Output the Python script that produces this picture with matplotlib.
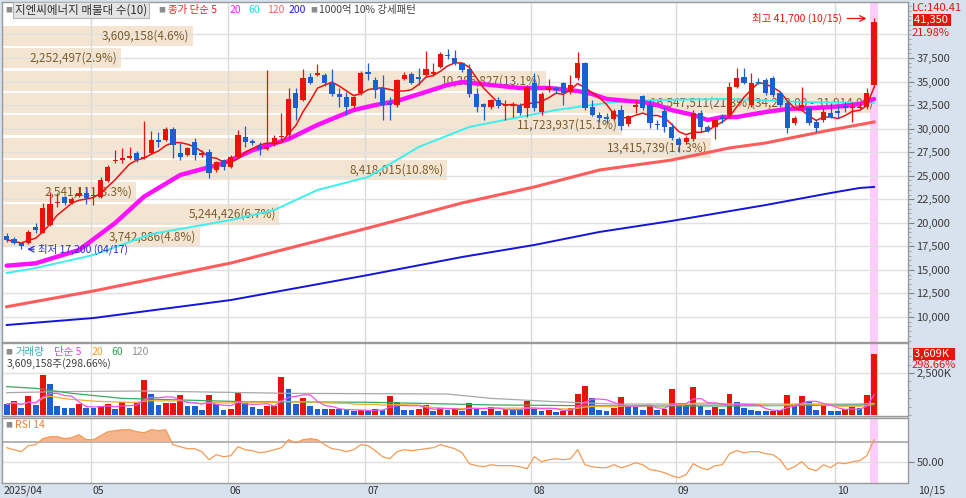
import numpy as np
import pandas as pd
import matplotlib
matplotlib.use("Agg")
import matplotlib.pyplot as plt
from matplotlib.ticker import FixedLocator, MultipleLocator, FuncFormatter

plt.rcParams['font.family'] = ['Noto Sans CJK KR', 'DejaVu Sans']

W, H = 966, 498

# ---- trading days (KRX holidays removed)
holidays = ['2025-05-01', '2025-05-05', '2025-05-06', '2025-06-03', '2025-06-06',
            '2025-08-15', '2025-10-03', '2025-10-06', '2025-10-07', '2025-10-08', '2025-10-09']
days = pd.bdate_range('2025-04-15', '2025-10-15')
days = days[~days.isin(pd.to_datetime(holidays))]

# ---- daily candles
opens = [18600, 18280, 17850, 17850, 19550, 18950, 19800, 22100, 22750, 22100,
         22850, 23150, 22900, 22750, 24450, 26550, 26650, 26900, 27400, 26900,
         27400, 28800, 28800, 29950, 27400, 27200, 28600, 27200, 27550, 25600,
         26650, 25950, 27000, 29100, 28700, 28150, 27850, 28350, 29100, 29350,
         33800, 33050, 35500, 35700, 35700, 34850, 33700, 33350, 32400, 33800,
         36050, 35150, 34300, 32750, 32500, 35300, 35800, 35500, 35700, 35800,
         36550, 37850, 37500, 36950, 36350, 33700, 32600, 32300, 33050, 32450,
         32450, 32500, 32200, 34850, 31750, 34100, 34300, 34850, 33900, 35400,
         36950, 32300, 31450, 31200, 31050, 32000, 30500, 32300, 33450, 32500,
         30450, 31900, 30200, 28900, 28600, 28900, 31650, 30200, 30200, 31250,
         31450, 34450, 35500, 32500, 34950, 35150, 35400, 33800, 32750, 30600,
         32200, 32200, 30700, 30900, 31650, 31850, 32400, 32200, 32200, 32300,
         34650]
highs = [18950, 18500, 18000, 19250, 20000, 22100, 23300, 23150, 22900, 22700,
         23800, 23700, 23700, 24900, 26100, 27750, 27950, 28050, 27600, 30800,
         29750, 29650, 30200, 30200, 28500, 28100, 29000, 27700, 27850, 26600,
         26800, 27200, 29850, 30300, 28900, 28600, 36250, 29300, 31650, 34300,
         34300, 36350, 35900, 36900, 35900, 36350, 34300, 33900, 33500, 36100,
         36950, 35500, 35700, 33350, 35300, 36000, 36000, 36450, 38250, 36950,
         38150, 38450, 38400, 37100, 36900, 34300, 32750, 33200, 33350, 33050,
         32800, 32700, 34650, 35900, 33900, 35300, 34500, 34950, 35700, 38150,
         37100, 33050, 31750, 31650, 32100, 32500, 31500, 33050, 33600, 33050,
         30900, 32300, 30600, 29100, 29200, 32000, 32000, 30350, 31000, 31550,
         34950, 36450, 36450, 35900, 35400, 35400, 35600, 34000, 32900, 31300,
         34450, 32400, 30900, 32200, 32700, 32500, 32850, 32850, 32850, 34300,
         41700]
lows = [17950, 17700, 17200, 17700, 18950, 18900, 19700, 21700, 21900, 22000,
        22750, 22000, 21900, 22600, 24300, 26350, 26350, 26800, 26500, 26800,
        27300, 28050, 28700, 26900, 26700, 27100, 26700, 27000, 24750, 25400,
        25600, 25800, 26900, 28050, 28300, 27200, 27750, 28200, 28800, 29000,
        30900, 32900, 34700, 35600, 34500, 33500, 32300, 31450, 32200, 33600,
        35150, 33250, 30900, 30900, 32300, 35150, 34700, 34650, 35500, 35600,
        36400, 37400, 36800, 36000, 33400, 31750, 30900, 32100, 32200, 30900,
        31250, 31450, 31250, 31900, 31500, 33900, 33800, 32500, 33700, 35200,
        32000, 31300, 30700, 30600, 30900, 29850, 30300, 31650, 32000, 30050,
        29950, 29650, 28800, 27500, 28400, 28700, 29650, 29600, 28950, 30600,
        31300, 34300, 34700, 32300, 34700, 33600, 33400, 32300, 29550, 30400,
        32000, 30400, 29650, 30700, 31100, 31100, 31750, 30700, 32050, 32100,
        34400]
closes = [18200, 17860, 17500, 19030, 19250, 21600, 22000, 22250, 22100, 22500,
          23150, 22650, 23000, 24550, 25950, 26700, 26900, 27100, 26650, 27000,
          28800, 28600, 29950, 28250, 27000, 27950, 27200, 27400, 25300, 26450,
          25950, 27000, 29350, 28600, 28500, 27850, 28050, 29000, 29250, 33150,
          32200, 35400, 34850, 35900, 34850, 33700, 33350, 32300, 33350, 35900,
          35800, 34100, 32500, 32500, 35150, 35700, 34850, 35300, 36350, 36000,
          37950, 37700, 36950, 36250, 33700, 32300, 32300, 33050, 32400, 32550,
          32550, 31650, 34450, 32200, 33700, 34400, 34100, 33800, 34650, 37000,
          32200, 31450, 31150, 31050, 31900, 30300, 31350, 32500, 32200, 30600,
          30350, 30200, 29000, 28250, 29000, 31650, 30200, 29750, 30900, 31050,
          34450, 35400, 34850, 34850, 34850, 33800, 33600, 32500, 30050, 31150,
          32500, 30600, 30050, 31800, 31250, 31650, 32200, 32300, 32300, 33800,
          41350]

# volume (million shares)
volume = [0.65, 0.81, 0.44, 1.13, 0.60, 2.36, 1.85, 0.54, 0.44, 0.43,
          0.65, 0.44, 0.43, 0.54, 0.65, 0.38, 0.76, 0.44, 0.76, 2.08,
          1.25, 0.60, 0.70, 0.71, 1.19, 0.54, 0.53, 0.28, 1.19, 0.64,
          0.28, 0.38, 1.29, 0.73, 0.48, 0.34, 0.54, 0.55, 2.24, 1.57,
          0.65, 0.99, 0.54, 0.34, 0.33, 0.34, 0.33, 0.28, 0.24, 0.28,
          0.24, 0.38, 0.28, 1.13, 0.76, 0.28, 0.27, 0.34, 0.60, 0.24,
          0.42, 0.28, 0.34, 0.24, 0.73, 0.34, 0.24, 0.50, 0.24, 0.34,
          0.28, 0.27, 0.83, 0.36, 0.24, 0.32, 0.18, 0.24, 0.44, 1.25,
          1.73, 1.03, 0.30, 0.24, 0.44, 1.09, 0.46, 0.45, 0.30, 0.60,
          0.30, 0.36, 1.55, 0.60, 0.59, 1.65, 0.54, 0.30, 0.46, 0.34,
          1.25, 0.76, 0.40, 0.30, 0.24, 0.23, 0.26, 0.30, 1.19, 0.65,
          1.13, 0.81, 0.30, 0.54, 0.24, 0.23, 0.34, 0.46, 0.40, 1.19,
          3.609158]

rsi = [64, 62, 60, 66, 67, 73, 75, 75, 73, 74, 77, 72, 72, 76, 80, 81, 82, 82, 80, 79,
       82, 81, 82, 67, 65, 63, 63, 60, 52, 57, 55, 56, 65, 62, 61, 59, 60, 62, 64, 72,
       69, 72, 73, 72, 67, 63, 62, 60, 62, 67, 66, 61, 55, 53, 60, 62, 61, 62, 63, 64,
       67, 65, 63, 59, 48, 46, 45, 47, 46, 46, 46, 45, 43, 55, 50, 52, 53, 52, 53, 62,
       47, 45, 44, 44, 47, 44, 46, 49, 47, 42, 41, 39, 36, 34, 37, 48, 44, 42, 46, 47,
       58, 61, 59, 60, 60, 58, 57, 52, 42, 45, 50, 43, 41, 47, 44, 49, 48, 50, 51, 56,
       72]

# moving averages read at sample points (index, value)
ma20_at = [0, 4, 10, 15, 19, 24, 30, 34, 39, 43, 48, 51, 54, 58, 61, 63, 67, 71, 75, 79,
           81, 83, 86, 88, 90, 92, 95, 97, 99, 101, 105, 108, 112, 116, 118, 120]
ma20 = [15450, 15700, 17110, 19980, 22780, 25080, 26320, 27700, 28900, 30400, 31980, 32510,
        32940, 33900, 34640, 34960, 34640, 34320, 34320, 34000, 33680, 33150, 32940, 32830,
        32510, 31980, 31450, 30920, 31240, 31240, 31770, 32090, 32200, 32410, 32620, 33150]
ma60_at = [0, 4, 12, 20, 31, 37, 43, 50, 57, 64, 71, 76, 80, 84, 90, 100, 110, 120]
ma60 = [14670, 15200, 16580, 18810, 20300, 21360, 23490, 24870, 28050, 30180, 31240, 31980,
        32410, 32830, 33050, 33150, 32830, 32730]
ma120_at = [0, 12, 31, 50, 63, 73, 82, 92, 100, 105, 114, 120]
ma120 = [11090, 12760, 15730, 19450, 22110, 23810, 25610, 26670, 27950, 28480, 29860, 30710]
ma200_at = [0, 12, 31, 50, 63, 73, 82, 92, 105, 114, 118, 120]
ma200 = [9150, 9890, 11800, 14460, 16370, 17650, 19030, 20200, 21890, 23170, 23700, 23810]

vma60_at = [0, 4, 9, 16, 33, 50, 67, 84, 101, 120]
vma60 = [1.69, 1.59, 1.29, 0.99, 0.79, 0.76, 0.60, 0.54, 0.54, 0.60]
vma120_at = [0, 7, 19, 39, 61, 67, 76, 84, 101, 117, 120]
vma120 = [1.33, 1.39, 1.43, 1.29, 1.25, 0.99, 0.79, 0.65, 0.65, 0.65, 0.68]

# volume profile (매물대 10)
prof_low = [17330, 19700, 22070, 24440, 26800, 29170, 31540, 33910, 36280, 38650]
prof_vol = [3742886, 5244426, 2541111, 8418015, 13415739, 11723937, 16547511, 10286827, 2252497, 3609158]
prof_pct = [4.8, 6.7, 3.3, 10.8, 17.3, 15.1, 21.3, 13.1, 2.9, 4.6]
prof_note = "(34,273.00 - 31,914.00)"

RED = '#e8140c'
BLUE = '#1c5fd0'

x = np.arange(len(closes))
o = np.array(opens); c = np.array(closes); hi = np.array(highs); lo = np.array(lows)
up = c >= o
vol = np.array(volume) * 1e6
vol_up = np.r_[False, vol[1:] > vol[:-1]]
ma5 = pd.Series(c).rolling(5, min_periods=1).mean()
vma5 = pd.Series(vol).rolling(5, min_periods=1).mean()
vma20 = pd.Series(vol).rolling(20, min_periods=1).mean()

months = pd.Series(days).dt.month.values
month_start = [i for i in range(1, len(days)) if months[i] != months[i - 1]]

fig = plt.figure(figsize=(W / 100, H / 100), dpi=100, facecolor='#d8e2ee')

def fy(y):
    return 1 - y / H

ax_p = fig.add_axes([2 / W, fy(342), 906 / W, 340 / H])
ax_v = fig.add_axes([2 / W, fy(416), 906 / W, 73 / H])
ax_r = fig.add_axes([2 / W, fy(483), 906 / W, 65 / H])

XL = (-0.65, 124.7)
for ax in (ax_p, ax_v, ax_r):
    ax.set_facecolor('white')
    ax.set_xlim(*XL)
    ax.set_xticks([])
    for s in ax.spines.values():
        s.set_color('#9a9a9a')
        s.set_linewidth(1)
    ax.yaxis.tick_right()
    ax.tick_params(axis='y', which='major', length=4, color='#808080', labelsize=8,
                   labelcolor='#3a3a3a', pad=2)
    ax.tick_params(axis='y', which='minor', length=2, color='#9a9a9a')
    for m in month_start:
        ax.axvline(m - 0.4, color='#dadada', lw=1, zorder=0.4)
    ax.axvspan(119.45, 120.55, color='#ffcdfb', zorder=0.3, lw=0)

# ---- price panel
ax_p.set_ylim(7345, 43450)
ax_p.yaxis.set_major_locator(FixedLocator(np.arange(10000, 37501, 2500)))
ax_p.yaxis.set_minor_locator(MultipleLocator(500))
ax_p.yaxis.set_major_formatter(FuncFormatter(lambda v, p: f"{v:,.0f}"))
for g in np.arange(10000, 40001, 2500):
    ax_p.axhline(g, color='#e0e0e0', lw=1, zorder=0.4)

left = XL[0]
scale = (120.4 - left) / max(prof_vol)
for i, (pl, pv, pp) in enumerate(zip(prof_low, prof_vol, prof_pct)):
    ax_p.barh(pl + 1185, pv * scale, left=left, height=2130, color='#f4e5d2', lw=0, zorder=0.2)
    lab = f"{pv:,}({pp:.1f}%)"
    if pv == max(prof_vol):
        lab += prof_note
    ax_p.text(left + pv * scale - 0.5, pl + 1185, lab, ha='right', va='center',
              fontsize=8.5, color='#7b5d2e', zorder=0.9)

ax_p.plot(ma200_at, ma200, color='#1414dc', lw=1.4, zorder=1)
ax_p.plot(ma120_at, ma120, color='#ff5c5c', lw=2.2, zorder=1.1)
ax_p.plot(ma60_at, ma60, color='#3cf0f0', lw=1.4, zorder=1.2)
ax_p.plot(ma20_at, ma20, color='#ff10ff', lw=3.2, zorder=1.3, solid_joinstyle='round',
          solid_capstyle='round')
ax_p.plot(x, ma5, color='#ee1010', lw=1.1, zorder=1.4)

col = np.where(up, RED, BLUE)
ax_p.vlines(x, lo, hi, colors=col, lw=0.9, zorder=2)
body = np.maximum(np.abs(c - o), 60)
ax_p.bar(x, body, bottom=np.minimum(o, c), width=0.72, color=col, lw=0, zorder=2.1)

ax_p.text(115.6, 41700, '최고 41,700 (10/15)', ha='right', va='center', fontsize=7.5,
          color='#e8140c', zorder=3)
ax_p.annotate('', xy=(119.35, 41700), xytext=(115.9, 41700),
              arrowprops=dict(arrowstyle='->', color='#e8140c', lw=0.9), zorder=3)
ax_p.annotate('', xy=(2.45, 17200), xytext=(4.2, 17200),
              arrowprops=dict(arrowstyle='->', color='#2a2ad8', lw=0.9), zorder=3)
ax_p.text(4.3, 17200, '최저 17,200 (04/17)', ha='left', va='center', fontsize=7.5,
          color='#2a2ad8', zorder=3)

# ---- volume panel
ax_v.set_ylim(-0.06e6, 4.29e6)
ax_v.yaxis.set_major_locator(FixedLocator([2.5e6]))
ax_v.yaxis.set_minor_locator(MultipleLocator(0.5e6))
ax_v.yaxis.set_major_formatter(FuncFormatter(lambda v, p: f"{v / 1000:,.0f}K"))
ax_v.axhline(2.5e6, color='#e0e0e0', lw=1, zorder=0.4)
ax_v.bar(x, vol, width=0.8, color=np.where(vol_up, RED, BLUE), lw=0, zorder=2)
ax_v.plot(vma120_at, np.array(vma120) * 1e6, color='#a8a8a8', lw=0.9, zorder=2.5)
ax_v.plot(vma60_at, np.array(vma60) * 1e6, color='#3aa860', lw=0.9, zorder=2.6)
ax_v.plot(x, vma20, color='#f2b030', lw=0.9, zorder=2.7)
ax_v.plot(x, vma5, color='#ee55ee', lw=0.9, zorder=2.8)

# ---- RSI panel
r = np.array(rsi, dtype=float)
ax_r.set_ylim(28.7, 93.7)
ax_r.yaxis.set_major_locator(FixedLocator([50]))
ax_r.yaxis.set_major_formatter(FuncFormatter(lambda v, p: f"{v:.2f}"))
ax_r.axhline(50, color='#e0e0e0', lw=1, zorder=0.4)
ax_r.axhline(70, color='#b4b4b4', lw=1.4, zorder=0.5)
ax_r.fill_between(x, 70, r, where=r >= 70, interpolate=True, color='#f5b48c', lw=0, zorder=1)
ax_r.plot(x, r, color='#f59a55', lw=0.9, zorder=2)

# ---- texts (headers, right panel, date strip)
def T(px, py, s, color='#303030', size=7.5, **kw):
    fig.text(px / W, fy(py), s, color=color, fontsize=size, va='center', **kw)

T(5, 10, '■', '#8c8c8c', 5)
T(15, 10, '지엔씨에너지 매물대 수(10)', '#303030', 8.3,
  bbox=dict(boxstyle='square,pad=0.15', fc='#e4e4e4', ec='#b4b4b4', lw=0.8))
T(158, 10, '■', '#8c8c8c', 5)
T(168, 10, '종가 단순 5', '#ee2020')
T(230, 10, '20', '#ff20ff')
T(248, 10, '60', '#20d8e8')
T(267, 10, '120', '#ff6060')
T(289, 10, '200', '#2020e0')
T(310, 10, '■', '#8c8c8c', 5)
T(319, 10, '1000억 10% 강세패턴', '#404040')

T(5, 352, '■', '#8c8c8c', 5)
T(15, 352, '거래량', '#40a8b0')
T(54, 352, '단순 5', '#e040e0')
T(92, 352, '20', '#f0a020')
T(111, 352, '60', '#30a050')
T(131, 352, '120', '#909090')
T(7, 364, '3,609,158주(298.66%)', '#404040')

T(5, 425, '■', '#8c8c8c', 5)
T(15, 425, 'RSI 14', '#f08030')

T(912, 8, 'LC:140.41', '#e8140c', 8)
T(914, 20, '41,350 ', 'white', 8, bbox=dict(boxstyle='square,pad=0.1', fc='#e8140c', ec='none'))
T(912, 33, '21.98%', '#e8140c', 8)
T(914, 354, '3,609K  ', 'white', 8, bbox=dict(boxstyle='square,pad=0.1', fc='#e8140c', ec='none'))
T(912, 365, '298.66%', '#e8140c', 8)

fig.text(4 / W, fy(491), '2025/04', color='#303030', fontsize=7.5, va='center')
for m in month_start:
    fig.text((2 + (m - 0.4 - XL[0]) / (XL[1] - XL[0]) * 906 + 2) / W, fy(491),
             f"{months[m]:02d}", color='#303030', fontsize=7.5, va='center')
fig.text(918 / W, fy(491), days[-1].strftime('%m/%d'), color='#303030', fontsize=7.5, va='center')

fig.savefig('out.png', dpi=100, facecolor=fig.get_facecolor())
